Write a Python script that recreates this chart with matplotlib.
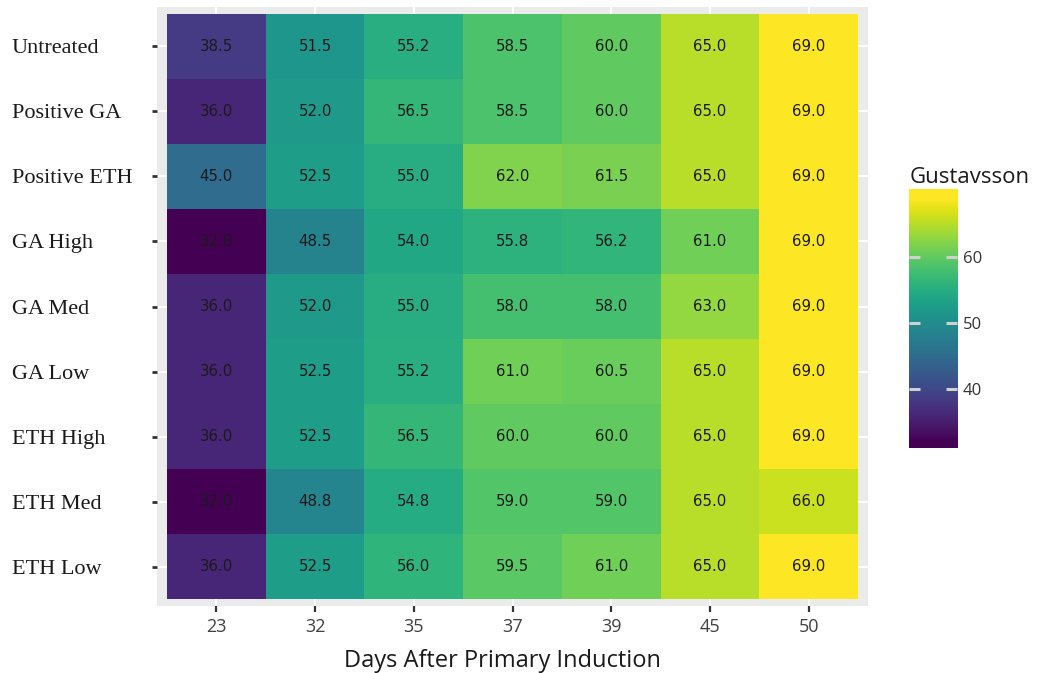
import numpy as np
import matplotlib
matplotlib.use("Agg")
import matplotlib.pyplot as plt
from matplotlib.colors import Normalize

# treatments (top to bottom) and sampling days
treatments = ["Untreated", "Positive GA", "Positive ETH", "GA High", "GA Med",
              "GA Low", "ETH High", "ETH Med", "ETH Low"]
days = ["23", "32", "35", "37", "39", "45", "50"]

# Gustavsson stage per treatment, one list per row
untreated = [38.5, 51.5, 55.2, 58.5, 60.0, 65.0, 69.0]
positive_ga = [36.0, 52.0, 56.5, 58.5, 60.0, 65.0, 69.0]
positive_eth = [45.0, 52.5, 55.0, 62.0, 61.5, 65.0, 69.0]
ga_high = [32.0, 48.5, 54.0, 55.8, 56.2, 61.0, 69.0]
ga_med = [36.0, 52.0, 55.0, 58.0, 58.0, 63.0, 69.0]
ga_low = [36.0, 52.5, 55.2, 61.0, 60.5, 65.0, 69.0]
eth_high = [36.0, 52.5, 56.5, 60.0, 60.0, 65.0, 69.0]
eth_med = [32.0, 48.8, 54.8, 59.0, 59.0, 65.0, 66.0]
eth_low = [36.0, 52.5, 56.0, 59.5, 61.0, 65.0, 69.0]

vals = np.array([untreated, positive_ga, positive_eth, ga_high, ga_med,
                 ga_low, eth_high, eth_med, eth_low])
vmin, vmax = vals.min(), vals.max()
norm = Normalize(vmin=vmin, vmax=vmax)

W, H = 1042, 673
fig = plt.figure(figsize=(W / 100, H / 100), dpi=100)
ax = fig.add_axes([157 / W, 1 - 606 / H, (868 - 157) / W, (606 - 7) / H])
ax.set_facecolor("#EBEBEB")
ax.set_axisbelow(True)
ax.grid(color="white", linewidth=1.4)

nr, nc = vals.shape
ax.pcolormesh(np.arange(nc + 1) - 0.5, np.arange(nr + 1) - 0.5, vals,
              cmap="viridis", norm=norm)
for i in range(nr):
    for j in range(nc):
        ax.text(j, i, f"{vals[i, j]:.1f}", ha="center", va="center",
                fontsize=10.8, color="#1a1a1a", family="DejaVu Sans")

ax.set_xlim(-0.6, nc - 0.4)
ax.set_ylim(nr - 0.4, -0.6)
for s in ax.spines.values():
    s.set_visible(False)

ax.set_xticks(range(nc))
ax.set_xticklabels(days, family=["Open Sans", "DejaVu Sans"], fontsize=13,
                   color="#404040")
ax.tick_params(axis="x", length=4.3, width=1.6, color="#333333", pad=4)
ax.set_yticks(range(nr))
ax.set_yticklabels(treatments, family=["Liberation Serif", "DejaVu Serif"],
                   fontsize=16, color="#1a1a1a", ha="left")
ax.tick_params(axis="y", length=3.6, width=2.0, color="#333333", pad=100.8)
ax.set_xlabel("Days After Primary Induction", family=["Open Sans", "DejaVu Sans"],
              fontsize=17, color="#1a1a1a", labelpad=8)
ax.xaxis.set_label_coords(0.486, -0.072)

# colour bar legend
cax = fig.add_axes([909 / W, 1 - 448 / H, 48 / W, 259 / H])
lo, hi = 31.1, 70.3
grad = np.linspace(lo, hi, 300).reshape(-1, 1)
cax.imshow(grad, extent=[0, 1, lo, hi], origin="lower", aspect="auto",
           cmap="viridis", norm=norm)
cax.set_xlim(0, 1)
cax.set_ylim(lo, hi)
for s in cax.spines.values():
    s.set_visible(False)
cax.set_xticks([])
cax.set_yticks([40, 50, 60])
cax.tick_params(axis="y", direction="in", left=True, right=True,
                labelleft=False, labelright=True, length=8, width=2.2,
                color="#D0D0D0", pad=4.3, labelsize=12, labelcolor="#333333")
for lab in cax.get_yticklabels():
    lab.set_family(["Open Sans", "DejaVu Sans"])
fig.text(910 / W, 1 - 183 / H, "Gustavsson", ha="left", va="baseline",
         fontsize=16, color="#1a1a1a", family=["Open Sans", "DejaVu Sans"])

fig.savefig("out.png", dpi=100)
